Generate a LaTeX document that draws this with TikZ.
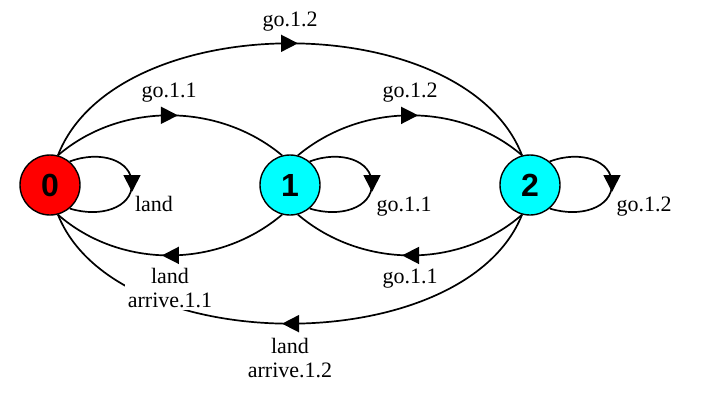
\documentclass[tikz,border=0pt]{standalone}
\usepackage{fontspec}
\setmainfont{Liberation Serif}
\newfontfamily\nodefont{Liberation Sans}
\usetikzlibrary{arrows.meta,decorations.markings}
\definecolor{stred}{RGB}{255,0,0}
\definecolor{stcyan}{RGB}{0,255,255}
\begin{document}
\begin{tikzpicture}[x=1pt,y=-1pt,
  state/.style={circle,draw=black,line width=1.4pt,minimum size=60pt,inner sep=0pt,font=\nodefont\bfseries\fontsize{32}{32}\selectfont},
  edge/.style={line width=1.7pt,postaction=decorate,decoration={markings,mark=at position 0.5 with {\arrow[xshift=8pt]{Triangle[length=17pt,width=17pt]}}}},
  lab/.style={font=\fontsize{22}{24}\selectfont,inner sep=2.5pt,fill=white,anchor=base,align=center}]
\useasboundingbox (0,0) rectangle (704,410);
\node[state,fill=stred] (n0) at (50,185) {0};
\node[state,fill=stcyan] (n1) at (290,185) {1};
\node[state,fill=stcyan] (n2) at (530,185) {2};
% arcs
\draw[edge] (n0.75) .. controls (116,6) and (464,6) .. (n2.105);
\draw[edge] (n0.75) .. controls (120,102) and (218,102) .. (n1.105);
\draw[edge] (n1.75) .. controls (362,102) and (460,102) .. (n2.105);
\draw[edge] (n1.-105) .. controls (218,269) and (120,269) .. (n0.-75);
\draw[edge] (n2.-105) .. controls (460,269) and (362,269) .. (n1.-75);
\draw[edge] (n2.-105) .. controls (464,360) and (116,360) .. (n0.-75);
% loops
\draw[edge] (n0.50) .. controls (100,150) and (132,160) .. (132,184) .. controls (132,208) and (100,218) .. (n0.-50);
\draw[edge] (n1.50) .. controls (340,150) and (372,160) .. (372,184) .. controls (372,208) and (340,218) .. (n1.-50);
\draw[edge] (n2.50) .. controls (580,150) and (612,160) .. (612,184) .. controls (612,208) and (580,218) .. (n2.-50);
% labels
\node[lab] (l02) at (290,26) {go.1.2};
\node[lab] (l01) at (169,97) {go.1.1};
\node[lab] (l12) at (410,97) {go.1.2};
\node[lab] (l10) at (170,307) {land\\arrive.1.1};
\node[lab] (l21) at (410,283) {go.1.1};
\node[lab] (l20) at (290,377) {land\\arrive.1.2};
\node[lab] (l00) at (154,211) {land};
\node[lab] (l11) at (404,211) {go.1.1};
\node[lab] (l22) at (644,211) {go.1.2};
\end{tikzpicture}
\end{document}
